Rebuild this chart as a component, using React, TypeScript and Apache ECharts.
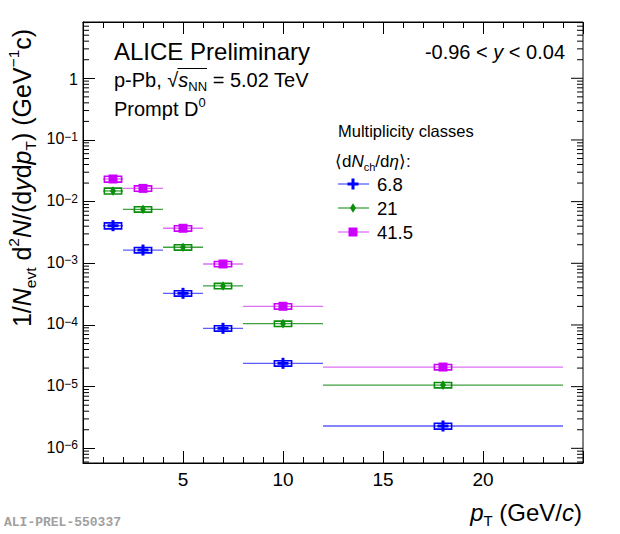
import { useEffect, useRef } from 'react';
import * as echarts from 'echarts';

// pT bins (GeV/c)
const binLow = [1, 2, 4, 6, 8, 12];
const binHigh = [2, 4, 6, 8, 12, 24];
const binCenter = [1.5, 3, 5, 7, 10, 18];

// multiplicity classes <dNch/deta>
const classNames = ['6.8', '21', '41.5'];

// yields 1/Nevt d2N/(dy dpT)
const yieldLowMult = [4.07e-3, 1.64e-3, 3.26e-4, 8.83e-5, 2.39e-5, 2.3e-6];
const yieldMidMult = [1.49e-2, 7.5e-3, 1.82e-3, 4.29e-4, 1.05e-4, 1.06e-5];
const yieldHighMult = [2.33e-2, 1.64e-2, 3.7e-3, 9.75e-4, 2.01e-4, 2.08e-5];

// relative statistical uncertainties
const statLowMult = [0.04, 0.04, 0.05, 0.06, 0.08, 0.17];
const statMidMult = [0.03, 0.03, 0.04, 0.05, 0.07, 0.13];
const statHighMult = [0.03, 0.03, 0.03, 0.04, 0.06, 0.1];

// relative systematic uncertainties
const systLowMult = [0.11, 0.1, 0.1, 0.1, 0.1, 0.11];
const systMidMult = [0.11, 0.1, 0.1, 0.1, 0.1, 0.1];
const systHighMult = [0.11, 0.1, 0.1, 0.1, 0.1, 0.1];

// axis ranges
const X_MIN = 0;
const X_MAX = 25;
const Y_MIN = 5.78e-7;
const Y_MAX = 8.18;

const BOX_HALF = 0.43;
const FONT = 'Liberation Sans';

function markerShapes(kind: string, cx: number, cy: number, color: string): any[] {
    if (kind === 'cross') {
        return [
            { type: 'rect', shape: { x: cx - 5.5, y: cy - 1.5, width: 11, height: 3 }, style: { fill: color } },
            { type: 'rect', shape: { x: cx - 1.5, y: cy - 5.5, width: 3, height: 11 }, style: { fill: color } },
        ];
    }
    if (kind === 'diamond') {
        return [{
            type: 'polygon',
            shape: { points: [[cx, cy - 4.8], [cx + 3, cy], [cx, cy + 4.8], [cx - 3, cy]] },
            style: { fill: color },
        }];
    }
    return [{ type: 'rect', shape: { x: cx - 4.5, y: cy - 4.5, width: 9, height: 9 }, style: { fill: color } }];
}

const classes = [
    { name: classNames[0], values: yieldLowMult, stat: statLowMult, syst: systLowMult, color: '#0000ff', line: '#5c5cff', marker: 'cross' },
    { name: classNames[1], values: yieldMidMult, stat: statMidMult, syst: systMidMult, color: '#0a8f0a', line: '#3fa03f', marker: 'diamond' },
    { name: classNames[2], values: yieldHighMult, stat: statHighMult, syst: systHighMult, color: '#cc00ff', line: '#dd70f5', marker: 'square' },
];

// ROOT-style log ticks: [x, value, isDecade]
const yFrameTicks: number[][] = [];
for (let e = -7; e <= 0; e++) {
    for (let m = 1; m <= 9; m++) {
        const v = m * Math.pow(10, e);
        if (v > Y_MIN && v < Y_MAX) yFrameTicks.push([X_MIN, v, m === 1 ? 1 : 0]);
    }
}

function richSet(size: number, sub: number, lh: number) {
    return {
        r: { fontFamily: FONT, fontSize: size, lineHeight: lh, verticalAlign: 'middle', fill: '#000' },
        i: { fontFamily: FONT, fontSize: size, fontStyle: 'italic', lineHeight: lh, verticalAlign: 'middle', fill: '#000' },
        sub: { fontFamily: FONT, fontSize: sub, lineHeight: lh, verticalAlign: 'bottom', fill: '#000' },
        sup: { fontFamily: FONT, fontSize: sub, lineHeight: lh, verticalAlign: 'top', fill: '#000' },
    };
}

export default function App() {
    const chartRef = useRef<HTMLDivElement>(null);

    useEffect(() => {
        if (!chartRef.current) return;
        const chart = echarts.init(chartRef.current, undefined, { renderer: 'svg' });

        const xAxisBase = {
            type: 'value',
            min: X_MIN,
            max: X_MAX,
            interval: 5,
            splitLine: { show: false },
            axisLine: { lineStyle: { color: '#000', width: 1 } },
            axisTick: { inside: true, length: 12, lineStyle: { color: '#000' } },
            minorTick: { show: true, splitNumber: 5, length: 6, lineStyle: { color: '#000' } },
        };

        const richTitle = richSet(25, 15.5, 33);
        const richXTitle = richSet(24, 15, 32);
        const rich20 = richSet(20, 13, 26);
        const rich17 = richSet(17, 11, 23);

        const legendItems: any[] = [];
        classes.forEach((c, k) => {
            const y = 184 + k * 24;
            legendItems.push({ type: 'line', shape: { x1: 338, y1: y, x2: 369, y2: y }, style: { stroke: c.line, lineWidth: 1.3 } });
            markerShapes(c.marker, 353, y, c.color).forEach((s) => legendItems.push(s));
            legendItems.push({
                type: 'text', x: 377, y: y,
                style: { text: c.name, fontFamily: FONT, fontSize: 18.5, fill: '#000', align: 'left', verticalAlign: 'middle' },
            });
        });

        const pointSeries = classes.map((c) => ({
            type: 'custom',
            name: c.name,
            xAxisIndex: 0,
            yAxisIndex: 0,
            clip: false,
            encode: { x: 0, y: 1 },
            data: binCenter.map((x, i) => [x, c.values[i], binLow[i], binHigh[i], c.stat[i], c.syst[i]]),
            renderItem: (params: any, api: any) => {
                const x = api.value(0);
                const y = api.value(1);
                const lo = api.value(2);
                const hi = api.value(3);
                const st = api.value(4);
                const sy = api.value(5);
                const p = api.coord([x, y]);
                const pl = api.coord([lo, y]);
                const ph = api.coord([hi, y]);
                const sUp = api.coord([x, y * (1 + st)]);
                const sDn = api.coord([x, y * (1 - st)]);
                const b1 = api.coord([x - BOX_HALF, y * (1 + sy)]);
                const b2 = api.coord([x + BOX_HALF, y * (1 - sy)]);
                return {
                    type: 'group',
                    children: [
                        { type: 'line', shape: { x1: pl[0], y1: p[1], x2: ph[0], y2: p[1] }, style: { stroke: c.line, lineWidth: 1.3 } },
                        { type: 'line', shape: { x1: p[0], y1: sUp[1], x2: p[0], y2: sDn[1] }, style: { stroke: c.color, lineWidth: 1.5 } },
                        {
                            type: 'rect',
                            shape: { x: b1[0], y: b1[1], width: b2[0] - b1[0], height: b2[1] - b1[1] },
                            style: { fill: 'none', stroke: c.color, lineWidth: 1.6 },
                        },
                        ...markerShapes(c.marker, p[0], p[1], c.color),
                    ],
                };
            },
        }));

        const option = {
            animation: false,
            grid: { left: 83, right: 37, top: 22, bottom: 71, show: true, borderColor: '#000', borderWidth: 1 },
            xAxis: [
                {
                    ...xAxisBase,
                    position: 'bottom',
                    axisLabel: {
                        fontFamily: FONT, fontSize: 19, color: '#000', margin: 7,
                        showMinLabel: false, showMaxLabel: false,
                    },
                },
                { ...xAxisBase, position: 'top', axisLabel: { show: false } },
            ],
            yAxis: {
                type: 'log',
                logBase: 10,
                min: Y_MIN,
                max: Y_MAX,
                position: 'left',
                splitLine: { show: false },
                axisLine: { lineStyle: { color: '#000', width: 1 } },
                axisTick: { inside: true, length: 12, lineStyle: { color: '#000' } },
                axisLabel: {
                    margin: 5,
                    showMinLabel: false,
                    showMaxLabel: false,
                    formatter: (v: number) => {
                        const l = Math.log10(v);
                        const e = Math.round(l);
                        if (Math.abs(l - e) > 0.01) return '';
                        if (e === 0) return '{u|1}';
                        return '{b|10}{s|' + (e < 0 ? '\u2212' + -e : String(e)) + '}';
                    },
                    rich: {
                        u: { fontFamily: FONT, fontSize: 16, lineHeight: 18, color: '#000', padding: [3, 0, 0, 0] },
                        b: { fontFamily: FONT, fontSize: 16, lineHeight: 18, verticalAlign: 'bottom', color: '#000', padding: [0, 0, 2, 0] },
                        s: { fontFamily: FONT, fontSize: 12, lineHeight: 18, verticalAlign: 'top', color: '#000' },
                    },
                },
            },
            graphic: [
                {
                    type: 'text', x: 114, y: 51,
                    style: { text: 'ALICE Preliminary', fontFamily: FONT, fontSize: 24, fill: '#000', align: 'left', verticalAlign: 'middle' },
                },
                {
                    type: 'text', x: 114, y: 80,
                    style: { text: '{r|p-Pb, \u221A}{i|s}{sub|NN}{r| = 5.02 TeV}', rich: rich20, align: 'left', verticalAlign: 'middle' },
                },
                { type: 'line', shape: { x1: 177.5, y1: 68.5, x2: 207, y2: 68.5 }, style: { stroke: '#000', lineWidth: 1 } },
                {
                    type: 'text', x: 114, y: 109,
                    style: { text: '{r|Prompt D}{sup|0}', rich: rich20, align: 'left', verticalAlign: 'middle' },
                },
                {
                    type: 'text', x: 565, y: 52,
                    style: { text: '{r|-0.96 < }{i|y}{r| < 0.04}', rich: rich20, align: 'right', verticalAlign: 'middle' },
                },
                {
                    type: 'text', x: 338, y: 131,
                    style: { text: 'Multiplicity classes', fontFamily: FONT, fontSize: 16.5, fill: '#000', align: 'left', verticalAlign: 'middle' },
                },
                {
                    type: 'text', x: 335, y: 161,
                    style: { text: '{r|\u27E8d}{i|N}{sub|ch}{r|/d}{i|\u03B7}{r|\u27E9:}', rich: rich17, align: 'left', verticalAlign: 'middle' },
                },
                ...legendItems,
                {
                    type: 'text', x: 22, y: 178, rotation: Math.PI / 2,
                    style: {
                        text: '{r|1/}{i|N}{sub|evt}{r| d}{sup|2}{i|N}{r|/(d}{i|y}{r|d}{i|p}{sub|T}{r|) (GeV}{sup|\u22121}{r|c)}',
                        rich: richTitle, align: 'center', verticalAlign: 'middle',
                    },
                },
                {
                    type: 'text', x: 582, y: 512,
                    style: { text: '{i|p}{sub|T}{r| (GeV/}{i|c}{r|)}', rich: richXTitle, align: 'right', verticalAlign: 'middle' },
                },
                {
                    type: 'text', x: 4, y: 522,
                    style: { text: 'ALI-PREL-550337', fontFamily: 'Liberation Mono', fontWeight: 'bold', fontSize: 13, fill: '#a0a0a0', align: 'left', verticalAlign: 'middle' },
                },
            ],
            series: [
                ...pointSeries,
                {
                    type: 'custom',
                    name: 'yFrameTicks',
                    xAxisIndex: 0,
                    yAxisIndex: 0,
                    clip: false,
                    silent: true,
                    encode: { x: 0, y: 1 },
                    data: yFrameTicks,
                    renderItem: (params: any, api: any) => {
                        const cs = params.coordSys;
                        const py = api.coord([api.value(0), api.value(1)])[1];
                        const decade = api.value(2) === 1;
                        const len = decade ? 12 : 6;
                        const children: any[] = [
                            { type: 'line', shape: { x1: cs.x + cs.width - len, y1: py, x2: cs.x + cs.width, y2: py }, style: { stroke: '#000', lineWidth: 1 } },
                        ];
                        if (!decade) {
                            children.push({ type: 'line', shape: { x1: cs.x, y1: py, x2: cs.x + 6, y2: py }, style: { stroke: '#000', lineWidth: 1 } });
                        }
                        return { type: 'group', children };
                    },
                },
            ],
        };

        chart.setOption(option as any);

        return () => {
            chart.dispose();
        };
    }, []);

    return (
        <div
            ref={chartRef}
            style={{ position: 'fixed', left: 0, top: 0, width: '620px', height: '534px', background: '#fff' }}
        />
    );
}
